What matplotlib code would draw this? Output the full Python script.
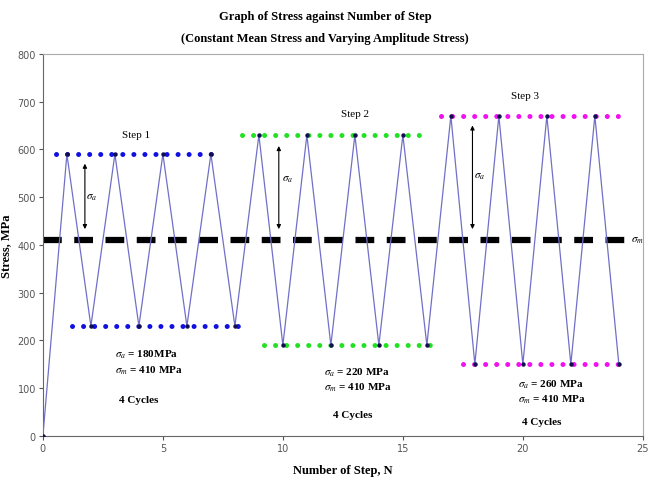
import matplotlib
matplotlib.use('Agg')
from matplotlib import pyplot as plt
import numpy as np

plt.rcParams['mathtext.fontset'] = 'stix'

# zig-zag stress history
steps = [0, 1, 2, 3, 4, 5, 6, 7, 8, 9, 10, 11, 12, 13, 14, 15, 16,
         17, 18, 19, 20, 21, 22, 23, 24]
stress = [0, 590, 230, 590, 230, 590, 230, 590, 230,
          630, 190, 630, 190, 630, 190, 630, 190,
          670, 150, 670, 150, 670, 150, 670, 150]

mean_stress = 410
amplitudes = [180, 220, 260]
step_names = ['Step 1', 'Step 2', 'Step 3']
colors = ['#1010e0', '#22e022', '#f010f0']

# extent (in N) of the dotted max / min level lines for each step
max_spans = [(0.55, 7.4), (8.3, 16.0), (16.6, 24.3)]
min_spans = [(1.2, 8.5), (9.2, 16.5), (17.5, 24.3)]

serif = 'Liberation Serif'

fig = plt.figure(figsize=(6.5, 4.85), dpi=100)
ax = fig.add_axes([0.066, 0.099, 0.923, 0.788])

# dotted max/min lines
for amp, c, smax, smin in zip(amplitudes, colors, max_spans, min_spans):
    ax.plot(smax, [mean_stress + amp] * 2, color=c, lw=3.6,
            linestyle=(0, (0.01, 2.2)), dash_capstyle='round', zorder=2)
    ax.plot(smin, [mean_stress - amp] * 2, color=c, lw=3.6,
            linestyle=(0, (0.01, 2.2)), dash_capstyle='round', zorder=2)

# mean stress line
ax.plot([0, 24.3], [mean_stress] * 2, color='black', lw=4.5,
        linestyle=(0, (3.0, 2.0)), zorder=2)
ax.text(24.5, mean_stress, r'$\sigma_m$', fontsize=8, va='center')

# stress history
ax.plot(steps, stress, color='#7070c8', lw=0.9, zorder=3)
ax.plot(steps, stress, linestyle='none', marker='o', ms=2.2,
        color='#101050', zorder=4)

# amplitude arrows
arrow_x = [1.75, 9.83, 17.9]
arrow_top = [570, 607, 650]
label_xy = [(2.05, 500), (10.2, 538), (18.2, 545)]
for x, top, lxy in zip(arrow_x, arrow_top, label_xy):
    ax.annotate('', xy=(x, 433), xytext=(x, top),
                arrowprops=dict(arrowstyle='<|-|>', color='black', lw=0.8,
                                mutation_scale=6, shrinkA=0, shrinkB=0))
    ax.text(lxy[0], lxy[1], r'$\sigma_a$', fontsize=8, ha='center',
            va='center')

# step titles
step_xy = [(3.9, 632), (13.0, 674), (20.1, 712)]
for name, (x, y) in zip(step_names, step_xy):
    ax.text(x, y, name, fontsize=8, ha='center', va='center', family=serif)

# parameter notes
note_xy = [(3.0, 172, 138, 4.0, 77),
           (11.7, 134, 103, 12.9, 46),
           (19.8, 109, 77, 20.8, 31)]
amp_fmt = ['{}MPa', '{} MPa', '{} MPa']
for amp, fmt, (x, ya, ym, xc, yc) in zip(amplitudes, amp_fmt, note_xy):
    ax.text(x, ya, r'$\sigma_a$ = ' + fmt.format(amp), fontsize=8,
            fontweight='bold', va='center', family=serif)
    ax.text(x, ym, r'$\sigma_m$ = ' + '{} MPa'.format(mean_stress),
            fontsize=8, fontweight='bold', va='center', family=serif)
    ax.text(xc, yc, '4 Cycles', fontsize=8, fontweight='bold',
            ha='center', va='center', family=serif)

ax.set_xlim(0, 25)
ax.set_ylim(0, 800)
ax.set_xticks(np.arange(0, 26, 5))
ax.set_yticks(np.arange(0, 801, 100))
ax.tick_params(colors='#555555', labelsize=7, length=3, width=0.8, pad=2)
for side in ['left', 'bottom']:
    ax.spines[side].set_color('#666666')
for side in ['top', 'right']:
    ax.spines[side].set_color('#aaaaaa')

ax.set_xlabel('Number of Step, N', fontsize=9, fontweight='bold',
              family=serif)
ax.xaxis.set_label_coords(0.5, -0.073)
ax.set_ylabel('Stress, MPa', fontsize=9, fontweight='bold', family=serif)
ax.yaxis.set_label_coords(-0.052, 0.5)
fig.text(0.5, 0.965, 'Graph of Stress against Number of Step',
         ha='center', va='center', fontsize=9, fontweight='bold', family=serif)
fig.text(0.5, 0.92, '(Constant Mean Stress and Varying Amplitude Stress)',
         ha='center', va='center', fontsize=9, fontweight='bold', family=serif)

fig.savefig('out.png', dpi=100)
plt.close()
